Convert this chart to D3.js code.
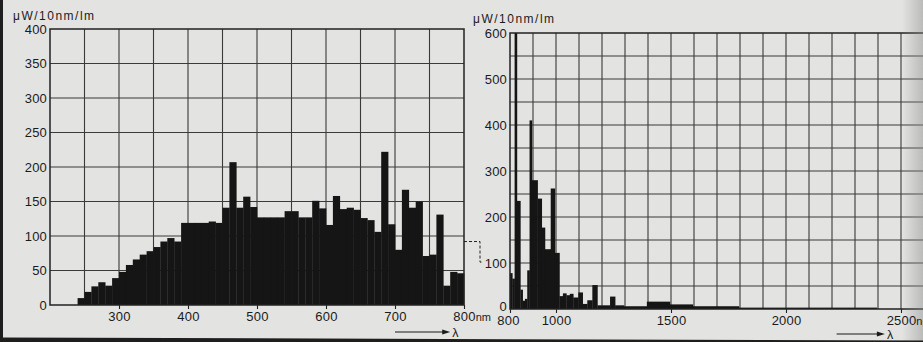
<!DOCTYPE html>
<html>
<head>
<meta charset="utf-8">
<script src="https://cdn.jsdelivr.net/npm/d3@7"></script>
<style>
  html, body { margin: 0; padding: 0; background: #e3e3e1; }
  svg { display: block; }
  text { font-family: "Liberation Sans", Arial, Helvetica, sans-serif; fill: #1b1b1b; }
</style>
</head>
<body>
<svg id="chart" width="923" height="342"></svg>
<script>
// ---- Visible range: 10 nm bins (lower edge of each bin), µW/10nm/lm ----
const visStart = [240, 250, 260, 270, 280, 290, 300, 310, 320, 330,
                  340, 350, 360, 370, 380, 390, 400, 410, 420, 430,
                  440, 450, 460, 470, 480, 490, 500, 510, 520, 530,
                  540, 550, 560, 570, 580, 590, 600, 610, 620, 630,
                  640, 650, 660, 670, 680, 690, 700, 710, 720, 730,
                  740, 750, 760, 770, 780, 790];
const visValue = [10, 19, 27, 33, 28, 39, 48, 58, 66, 73,
                  78, 84, 92, 97, 92, 119, 119, 119, 119, 121,
                  119, 141, 207, 141, 157, 142, 127, 127, 127, 127,
                  136, 136, 127, 127, 151, 140, 116, 158, 139, 141,
                  138, 126, 123, 106, 222, 117, 80, 167, 141, 150,
                  71, 73, 131, 28, 48, 46];

// ---- Infrared range: bin edges (nm) and heights ----
const irFrom  = [800, 810, 820, 830, 845, 855, 865, 875, 885, 895,
                 920, 938, 952, 977, 995, 1015, 1030, 1045, 1060, 1075,
                 1097, 1116, 1136, 1158, 1180, 1235, 1257, 1295, 1395, 1495,
                 1595, 1795];
const irTo    = [810, 820, 830, 845, 855, 865, 875, 885, 895, 920,
                 938, 952, 977, 995, 1015, 1030, 1045, 1060, 1075, 1097,
                 1116, 1136, 1158, 1180, 1235, 1257, 1295, 1395, 1495, 1595,
                 1795, 2395];
const irValue = [78, 66, 600, 235, 42, 18, 22, 84, 410, 280,
                 240, 177, 130, 262, 122, 28, 34, 30, 33, 25,
                 36, 11, 19, 52, 8, 27, 8, 6, 16, 10,
                 6, 3];

// ---- Axis ticks and labels ----
const visTicksY = [0, 50, 100, 150, 200, 250, 300, 350, 400];
const visTicksX = [300, 400, 500, 600, 700, 800];
const irTicksY  = [0, 100, 200, 300, 400, 500, 600];
const irTicksX  = [800, 1000, 1500, 2000, 2500];
const unitLabel = "\u03BCW/10nm/lm";
const unitSuffix = "nm";
const lambda = "\u03BB";

const svg = d3.select("#chart");
const W = 923, H = 342;
const ink = "#151515", gridCol = "#3a3a3a";
const fmt = d3.format("d");

// ---- Scales ----
const xL = d3.scaleLinear().domain([200, 800]).range([50, 464]);
const yL = d3.scaleLinear().domain([0, 400]).range([305, 29]);
const xR = d3.scaleLinear().domain([800, 2600]).range([510, 924]);
const yR = d3.scaleLinear().domain([0, 600]).range([309, 33]);

// ---- Left panel grid ----
const gL = svg.append("g");
gL.selectAll("line.v").data(d3.range(250, 800, 50)).join("line")
  .attr("x1", d => xL(d)).attr("x2", d => xL(d))
  .attr("y1", yL(400)).attr("y2", yL(0))
  .attr("stroke", gridCol).attr("stroke-width", 1.1);
gL.selectAll("line.h").data(d3.range(50, 400, 50)).join("line")
  .attr("x1", xL(200)).attr("x2", xL(800))
  .attr("y1", d => yL(d)).attr("y2", d => yL(d))
  .attr("stroke", gridCol).attr("stroke-width", 1.1);

// ---- Right panel grid ----
const gR = svg.append("g");
gR.selectAll("line.v").data(d3.range(900, 2700, 100)).join("line")
  .attr("x1", d => xR(d)).attr("x2", d => xR(d))
  .attr("y1", yR(600)).attr("y2", yR(0))
  .attr("stroke", gridCol).attr("stroke-width", 1.1);
gR.selectAll("line.h").data(d3.range(50, 600, 50)).join("line")
  .attr("x1", xR(800)).attr("x2", W)
  .attr("y1", d => yR(d)).attr("y2", d => yR(d))
  .attr("stroke", gridCol).attr("stroke-width", 1.1);

// ---- Bars ----
svg.append("g").selectAll("rect").data(visStart).join("rect")
  .attr("x", (d) => xL(d))
  .attr("width", d => xL(d + 10) - xL(d) + 0.3)
  .attr("y", (d, i) => yL(visValue[i]))
  .attr("height", (d, i) => yL(0) - yL(visValue[i]))
  .attr("fill", ink);

svg.append("g").selectAll("rect").data(irFrom).join("rect")
  .attr("x", d => xR(d))
  .attr("width", (d, i) => xR(irTo[i]) - xR(d) + 0.3)
  .attr("y", (d, i) => yR(irValue[i]))
  .attr("height", (d, i) => yR(0) - yR(irValue[i]))
  .attr("fill", ink);

// ---- Frames ----
svg.append("rect")
  .attr("x", xL(200)).attr("y", yL(400))
  .attr("width", xL(800) - xL(200)).attr("height", yL(0) - yL(400))
  .attr("fill", "none").attr("stroke", "#222").attr("stroke-width", 1.5);
svg.append("path")
  .attr("d", `M${W},${yR(600)}H${xR(800)}V${yR(0)}H${W}`)
  .attr("fill", "none").attr("stroke", "#222").attr("stroke-width", 1.5);

// ---- Page edges (drawn under the labels at the bottom) ----
const defs = svg.append("defs");
const grad = defs.append("linearGradient").attr("id", "curl").attr("x1", 0).attr("x2", 1);
grad.append("stop").attr("offset", 0).attr("stop-color", "#8a8a8a").attr("stop-opacity", 0);
grad.append("stop").attr("offset", 1).attr("stop-color", "#8a8a8a").attr("stop-opacity", 0.45);
svg.append("rect").attr("x", 902).attr("y", 0).attr("width", 21).attr("height", H)
  .attr("fill", "url(#curl)");
svg.append("rect").attr("x", 0).attr("y", 0).attr("width", 3).attr("height", H).attr("fill", "#1e1e1e");
svg.append("path").attr("d", `M0,337.5L${W},340.5V${H}H0Z`).attr("fill", "#1e1e1e");

// ---- Axes ----
function styleAxis(g) {
  g.select(".domain").remove();
  g.selectAll(".tick line").attr("stroke", "#222").attr("stroke-width", 1.1);
  g.selectAll("text").attr("font-size", 13).attr("letter-spacing", 0.2).attr("fill", "#1b1b1b");
}
function addSuffix(g, last) {
  g.selectAll(".tick text").filter(d => d === last).each(function () {
    const t = d3.select(this);
    const w = this.getComputedTextLength();
    t.attr("text-anchor", "start").attr("x", -w / 2);
    t.append("tspan").attr("font-size", 11).attr("letter-spacing", 0).text(unitSuffix);
  });
}

svg.append("g").attr("transform", `translate(${xL(200)},0)`)
  .call(d3.axisLeft(yL).tickValues(visTicksY).tickFormat(fmt).tickSize(0).tickPadding(3))
  .call(styleAxis);
svg.append("g").attr("transform", `translate(0,${yL(0)})`)
  .call(d3.axisBottom(xL).tickValues(visTicksX).tickFormat(fmt).tickSize(4).tickPadding(3))
  .call(styleAxis).call(g => addSuffix(g, 800));

svg.append("g").attr("transform", `translate(${xR(800)},0)`)
  .call(d3.axisLeft(yR).tickValues(irTicksY).tickFormat(fmt).tickSize(0).tickPadding(3))
  .call(styleAxis)
  .call(g => g.selectAll(".tick text").filter(d => d === 0).attr("y", -3));
svg.append("g").attr("transform", `translate(0,${yR(0)})`)
  .call(d3.axisBottom(xR).tickValues(irTicksX).tickFormat(fmt).tickSize(4).tickPadding(3))
  .call(styleAxis)
  .call(g => g.selectAll(".tick text").filter(d => d === 800).attr("x", -2))
  .call(g => addSuffix(g, 2500));

// ---- Unit labels ----
svg.append("text").attr("x", 13).attr("y", 20)
  .attr("font-size", 12).attr("letter-spacing", 1.5).text(unitLabel);
svg.append("text").attr("x", 473).attr("y", 23)
  .attr("font-size", 12).attr("letter-spacing", 1.5).text(unitLabel);

// ---- Wavelength arrows ----
function lambdaArrow(x0, x1, y) {
  const g = svg.append("g");
  g.append("line").attr("x1", x0).attr("x2", x1 - 6).attr("y1", y).attr("y2", y)
    .attr("stroke", "#1b1b1b").attr("stroke-width", 1.2);
  g.append("path").attr("d", `M${x1 - 8},${y - 2.5}L${x1},${y}L${x1 - 8},${y + 2.5}Z`)
    .attr("fill", "#1b1b1b");
  g.append("text").attr("x", x1 + 2).attr("y", y + 4.5).attr("font-size", 12.5).text(lambda);
}
lambdaArrow(xL(700), xL(780), 332);
lambdaArrow(xR(2220), xR(2430), 334);

// ---- Scale-change connector between panels ----
const cx = xL(800) + 16;
svg.append("path")
  .attr("d", `M${xL(800)},${yL(92)}H${cx}V${yR(102)}H${cx + 3}`)
  .attr("fill", "none").attr("stroke", "#222").attr("stroke-width", 1)
  .attr("stroke-dasharray", "3,2");
</script>
</body>
</html>
